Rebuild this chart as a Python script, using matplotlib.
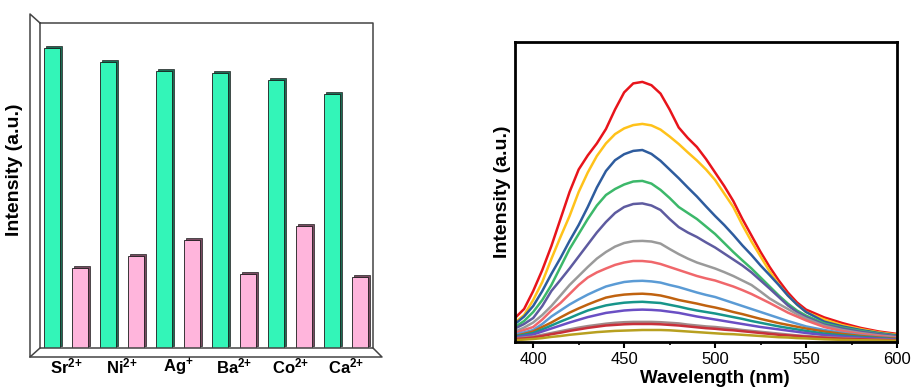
import matplotlib
matplotlib.use('Agg')
import matplotlib.pyplot as plt
import numpy as np
from matplotlib.transforms import offset_copy, IdentityTransform
from matplotlib.ticker import MultipleLocator
from matplotlib.lines import Line2D

plt.rcParams['font.family'] = ['Liberation Sans', 'DejaVu Sans']
plt.rcParams['mathtext.fontset'] = 'custom'
plt.rcParams['mathtext.rm'] = 'Liberation Sans'
plt.rcParams['mathtext.bf'] = 'Liberation Sans:bold'

# ---------------- data: left bar chart ----------------
ions = ['Sr', 'Ni', 'Ag', 'Ba', 'Co', 'Ca']
charges = ['2{+}', '2{+}', '{+}', '2{+}', '2{+}', '2{+}']
green_vals = [300, 286, 277, 275, 268, 254]
pink_vals = [80, 92, 108, 74, 122, 71]

# ---------------- data: right spectra ----------------
wavelength = [390, 395, 400, 405, 410, 415, 420, 425, 430, 435, 440, 445, 450, 455, 460,
              465, 470, 475, 480, 485, 490, 495, 500, 505, 510, 515, 520, 525, 530, 535,
              540, 545, 550, 560, 570, 580, 590, 600]
s_red = [0.08, 0.11, 0.17, 0.24, 0.32, 0.41, 0.5, 0.575, 0.622, 0.662, 0.71, 0.775, 0.832, 0.862, 0.867,
         0.856, 0.828, 0.775, 0.715, 0.68, 0.65, 0.61, 0.565, 0.52, 0.47, 0.41, 0.355, 0.3, 0.25, 0.205,
         0.165, 0.132, 0.108, 0.082, 0.063, 0.047, 0.035, 0.027]
s_gold = [0.065, 0.09, 0.14, 0.2, 0.277, 0.35, 0.42, 0.5, 0.565, 0.62, 0.662, 0.693, 0.712, 0.723, 0.727,
          0.722, 0.708, 0.685, 0.66, 0.632, 0.605, 0.575, 0.54, 0.495, 0.45, 0.39, 0.335, 0.285, 0.235, 0.192,
          0.155, 0.125, 0.1, 0.075, 0.056, 0.043, 0.032, 0.024]
s_blue = [0.06, 0.085, 0.12, 0.17, 0.227, 0.28, 0.337, 0.39, 0.45, 0.515, 0.57, 0.606, 0.626, 0.637, 0.64,
          0.627, 0.604, 0.575, 0.546, 0.515, 0.485, 0.452, 0.42, 0.39, 0.357, 0.322, 0.29, 0.255, 0.223, 0.19,
          0.155, 0.125, 0.1, 0.068, 0.052, 0.04, 0.03, 0.022]
s_green = [0.05, 0.07, 0.1, 0.14, 0.19, 0.25, 0.31, 0.36, 0.41, 0.455, 0.49, 0.51, 0.525, 0.535, 0.537,
           0.528, 0.507, 0.48, 0.45, 0.43, 0.41, 0.385, 0.36, 0.33, 0.3, 0.272, 0.245, 0.215, 0.185, 0.155,
           0.128, 0.105, 0.088, 0.062, 0.048, 0.037, 0.028, 0.02]
s_purple = [0.045, 0.06, 0.08, 0.12, 0.17, 0.207, 0.245, 0.285, 0.325, 0.365, 0.4, 0.43, 0.45, 0.46, 0.462,
            0.455, 0.44, 0.41, 0.383, 0.365, 0.35, 0.332, 0.315, 0.295, 0.275, 0.255, 0.232, 0.205, 0.178, 0.15,
            0.122, 0.1, 0.083, 0.058, 0.045, 0.034, 0.026, 0.019]
s_gray = [0.035, 0.048, 0.065, 0.09, 0.12, 0.155, 0.19, 0.22, 0.25, 0.278, 0.3, 0.318, 0.33, 0.336, 0.337,
          0.335, 0.328, 0.31, 0.293, 0.278, 0.265, 0.255, 0.245, 0.233, 0.22, 0.205, 0.19, 0.168, 0.145, 0.127,
          0.11, 0.093, 0.078, 0.054, 0.04, 0.03, 0.022, 0.016]
s_salmon = [0.03, 0.04, 0.05, 0.075, 0.105, 0.13, 0.16, 0.19, 0.215, 0.232, 0.245, 0.257, 0.265, 0.27, 0.27,
            0.267, 0.26, 0.25, 0.24, 0.23, 0.22, 0.212, 0.205, 0.195, 0.185, 0.173, 0.16, 0.145, 0.13, 0.114,
            0.098, 0.085, 0.072, 0.05, 0.036, 0.027, 0.02, 0.014]
s_lblue = [0.025, 0.032, 0.04, 0.06, 0.085, 0.105, 0.125, 0.142, 0.158, 0.172, 0.185, 0.193, 0.2, 0.203, 0.204,
           0.202, 0.198, 0.19, 0.183, 0.174, 0.165, 0.157, 0.15, 0.14, 0.13, 0.12, 0.11, 0.1, 0.09, 0.08,
           0.07, 0.061, 0.052, 0.04, 0.03, 0.022, 0.016, 0.012]
s_orange = [0.02, 0.027, 0.035, 0.05, 0.065, 0.082, 0.098, 0.112, 0.125, 0.137, 0.148, 0.154, 0.158, 0.16, 0.161,
            0.159, 0.155, 0.148, 0.14, 0.134, 0.128, 0.121, 0.115, 0.108, 0.1, 0.093, 0.085, 0.077, 0.07, 0.063,
            0.057, 0.051, 0.045, 0.035, 0.027, 0.02, 0.015, 0.011]
s_teal = [0.018, 0.024, 0.03, 0.042, 0.055, 0.068, 0.08, 0.093, 0.105, 0.114, 0.122, 0.127, 0.131, 0.133, 0.134,
          0.132, 0.13, 0.124, 0.118, 0.111, 0.105, 0.1, 0.095, 0.089, 0.083, 0.077, 0.07, 0.064, 0.058, 0.052,
          0.047, 0.042, 0.037, 0.028, 0.022, 0.017, 0.013, 0.009]
s_violet = [0.015, 0.02, 0.025, 0.035, 0.045, 0.055, 0.065, 0.074, 0.083, 0.09, 0.097, 0.101, 0.105, 0.107, 0.108,
            0.107, 0.105, 0.101, 0.097, 0.091, 0.085, 0.08, 0.075, 0.07, 0.065, 0.06, 0.055, 0.05, 0.046, 0.042,
            0.038, 0.034, 0.03, 0.023, 0.018, 0.014, 0.011, 0.008]
s_gray2 = [0.012, 0.015, 0.018, 0.024, 0.03, 0.036, 0.042, 0.048, 0.053, 0.057, 0.061, 0.064, 0.066, 0.067, 0.067,
           0.067, 0.066, 0.064, 0.062, 0.058, 0.055, 0.052, 0.05, 0.047, 0.044, 0.04, 0.037, 0.034, 0.031, 0.028,
           0.025, 0.022, 0.02, 0.016, 0.013, 0.01, 0.008, 0.006]
s_crimson = [0.01, 0.012, 0.015, 0.02, 0.026, 0.031, 0.037, 0.042, 0.047, 0.051, 0.055, 0.057, 0.059, 0.06, 0.06,
             0.06, 0.059, 0.057, 0.055, 0.052, 0.049, 0.046, 0.044, 0.041, 0.039, 0.036, 0.033, 0.03, 0.027, 0.024,
             0.022, 0.02, 0.018, 0.014, 0.011, 0.009, 0.007, 0.005]
s_olive = [0.006, 0.008, 0.01, 0.013, 0.017, 0.02, 0.024, 0.027, 0.03, 0.033, 0.035, 0.037, 0.038, 0.039, 0.04,
           0.04, 0.04, 0.039, 0.037, 0.035, 0.033, 0.031, 0.029, 0.027, 0.026, 0.024, 0.022, 0.02, 0.018, 0.016,
           0.015, 0.013, 0.012, 0.009, 0.007, 0.006, 0.005, 0.004]

spectra = [s_red, s_gold, s_blue, s_green, s_purple, s_gray, s_salmon, s_lblue,
           s_orange, s_teal, s_violet, s_gray2, s_crimson, s_olive]
colors = ['#E8141B', '#FFC21A', '#2E5C9E', '#3CB86A', '#5E5BA0', '#9A9A9A', '#F0676B',
          '#5B9BD5', '#C0620F', '#17958A', '#6A4FC4', '#A08A8A', '#C8303A', '#B8A020']

W, H = 914, 387
fig = plt.figure(figsize=(W / 100, H / 100), dpi=100)

# ---------------- left panel ----------------
ax1 = fig.add_axes([40 / W, 39 / H, 333 / W, 325 / H])
ax1.set_xlim(-0.464, 5.48)
ax1.set_ylim(0, 325)
ax1.axis('off')

x = np.arange(len(ions))
bw = 0.29
shadow_tr = offset_copy(ax1.transData, fig=fig, x=2.2, y=1.6, units='dots')
for vals, off, face, side in [(green_vals, -0.25, '#33F5B8', '#1C6E55'),
                              (pink_vals, 0.25, '#FFB5DC', '#7A4C62')]:
    ax1.bar(x + off, vals, bw, color=side, edgecolor='#222222', lw=0.5,
            transform=shadow_tr, zorder=2)
    ax1.bar(x + off, vals, bw, color=face, edgecolor='#1a1a1a', lw=0.6, zorder=3)

for i, (ion, ch) in enumerate(zip(ions, charges)):
    ax1.text(x[i], -0.058, r'$\mathbf{%s^{%s}}$' % (ion, ch),
             transform=ax1.get_xaxis_transform(), ha='center', va='center',
             fontsize=12)

fig.canvas.draw()
bl = ax1.transAxes.transform((0, 0))
tl = ax1.transAxes.transform((0, 1))
br = ax1.transAxes.transform((1, 0))
tr = ax1.transAxes.transform((1, 1))
d_l = np.array([-10, 9])
d_b = np.array([-10, -9])
d_r = np.array([9, -9])
segs = [
    [tl, tr, br, bl, tl],
    [tl, tl + d_l, bl + d_b, bl],
    [bl + d_b, br + d_r, br],
]
for s in segs:
    s = np.array(s)
    fig.add_artist(Line2D(s[:, 0], s[:, 1], transform=IdentityTransform(),
                          color='#444444', lw=1.1, zorder=1))

fig.text(15 / W, 1 - 170 / H, 'Intensity (a.u.)', rotation=90, fontsize=14,
         fontweight='bold', ha='center', va='center')

# ---------------- right panel ----------------
ax2 = fig.add_axes([515 / W, 45 / H, 382 / W, 300 / H])
for vals, c in zip(spectra, colors):
    ax2.plot(wavelength, vals, color=c, lw=1.8)
ax2.set_xlim(390, 600)
ax2.set_ylim(0, 1)
ax2.set_yticks([])
ax2.xaxis.set_major_locator(MultipleLocator(50))
ax2.xaxis.set_minor_locator(MultipleLocator(25))
ax2.tick_params(axis='x', which='major', direction='out', length=4, width=1.5,
                labelsize=12, pad=3)
ax2.tick_params(axis='x', which='minor', direction='out', length=2.5, width=1.2)
for sp in ax2.spines.values():
    sp.set_linewidth(2)
ax2.set_xlabel('Wavelength (nm)', fontsize=13.5, fontweight='bold')
ax2.xaxis.set_label_coords(0.524, -0.092)
ax2.set_ylabel('Intensity (a.u.)', fontsize=14, fontweight='bold', labelpad=3)

fig.savefig('out.png', dpi=100)
